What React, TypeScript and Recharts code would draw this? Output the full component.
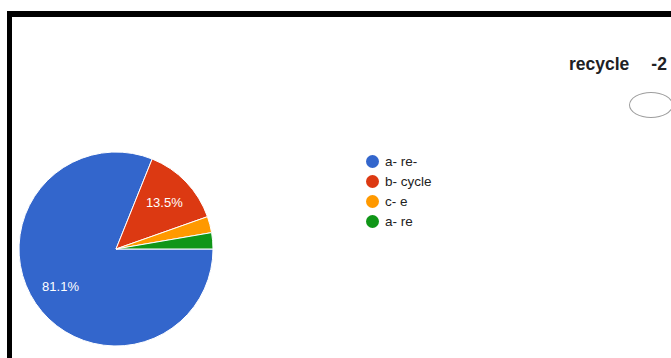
import { Legend, Pie, PieChart, Cell } from "recharts"

// answer counts, Google Forms style summary
const categories = ["a- re-", "b- cycle", "c- e", "a- re"]
const counts = [30, 5, 1, 1]
const colors = ["#3366cc", "#dc3912", "#ff9900", "#109618"]

const data = categories.map((name, i) => ({ name, value: counts[i] }))
const total = counts.reduce((a, b) => a + b, 0)

const RADIAN = Math.PI / 180

const renderLabel = (props: any) => {
  const { cx, cy, midAngle, outerRadius, value } = props
  const pct = (value / total) * 100
  if (pct < 5) return null
  const r = outerRadius * 0.69
  const x = cx + r * Math.cos(-midAngle * RADIAN)
  const y = cy + r * Math.sin(-midAngle * RADIAN)
  return (
    <text
      x={x}
      y={y}
      fill="#ffffff"
      fontSize={13}
      textAnchor="middle"
      dominantBaseline="central"
      fontFamily="Arial, 'Liberation Sans', sans-serif"
    >
      {pct.toFixed(1)}%
    </text>
  )
}

const LegendList = () => (
  <div style={{ fontFamily: "Arial, 'Liberation Sans', sans-serif", fontSize: 13.5, color: "#222" }}>
    {data.map((d, i) => (
      <div key={d.name} style={{ display: "flex", alignItems: "center", height: 20 }}>
        <span
          style={{
            width: 13,
            height: 13,
            borderRadius: "50%",
            background: colors[i],
            marginRight: 6,
            display: "inline-block",
          }}
        />
        <span>{d.name}</span>
      </div>
    ))}
  </div>
)

export default function App() {
  return (
    <div style={{ position: "fixed", left: 0, top: 0, width: 671, height: 358, overflow: "hidden", background: "#fff" }}>
      <div
        style={{
          position: "absolute",
          left: 7,
          top: 11,
          width: 700,
          height: 400,
          borderTop: "6px solid #000",
          borderLeft: "5px solid #000",
          boxSizing: "border-box",
        }}
      />
      <div
        style={{
          position: "absolute",
          left: 569,
          top: 54,
          fontFamily: "Arial, 'Liberation Sans', sans-serif",
          fontWeight: "bold",
          fontSize: 17.5,
          color: "#202124",
          whiteSpace: "nowrap",
        }}
      >
        recycle<span style={{ marginLeft: 22 }}>-2</span>
      </div>
      <div
        style={{
          position: "absolute",
          left: 629,
          top: 92,
          width: 44,
          height: 26,
          borderRadius: "50%",
          border: "1.5px solid #9e9e9e",
          boxSizing: "border-box",
        }}
      />
      <div style={{ position: "absolute", left: 0, top: 0 }}>
        <PieChart width={671} height={358} margin={{ top: 0, right: 0, bottom: 0, left: 0 }}>
          <Pie
            data={data}
            dataKey="value"
            nameKey="name"
            cx={116}
            cy={249}
            outerRadius={97}
            startAngle={0}
            endAngle={-360}
            stroke="#ffffff"
            strokeWidth={1}
            label={renderLabel}
            labelLine={false}
            isAnimationActive={false}
          >
            {data.map((d, i) => (
              <Cell key={d.name} fill={colors[i]} />
            ))}
          </Pie>
          <Legend
            layout="horizontal"
            verticalAlign="bottom"
            align="right"
            content={<LegendList />}
            wrapperStyle={{ position: "absolute", left: 366, top: 151, width: 120, height: 80, bottom: "auto" }}
          />
        </PieChart>
      </div>
    </div>
  )
}
